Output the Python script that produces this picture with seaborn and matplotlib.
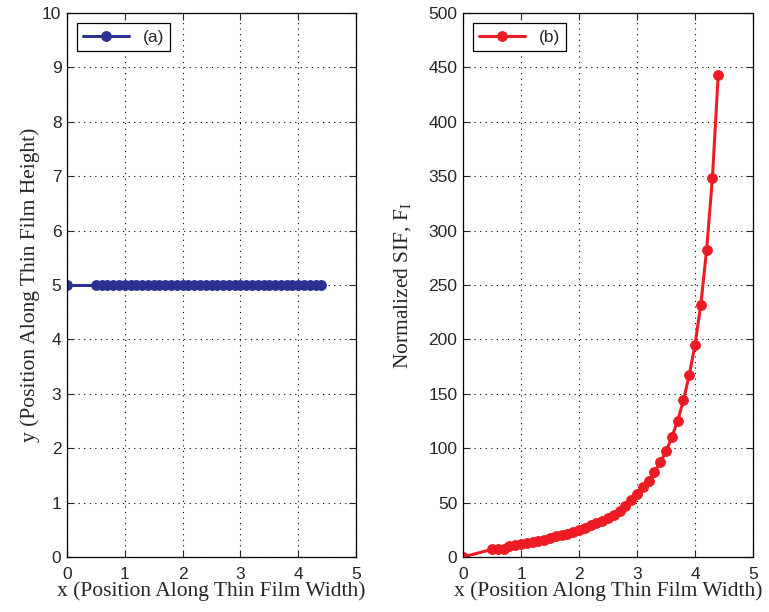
import matplotlib
matplotlib.use("Agg")
import matplotlib.pyplot as plt
import seaborn as sns
import pandas as pd
import numpy as np

# ---- data ----
x_pos = [0.0, 0.5, 0.6, 0.7, 0.8, 0.9, 1.0, 1.1, 1.2, 1.3, 1.4, 1.5, 1.6, 1.7,
         1.8, 1.9, 2.0, 2.1, 2.2, 2.3, 2.4, 2.5, 2.6, 2.7, 2.8, 2.9, 3.0, 3.1,
         3.2, 3.3, 3.4, 3.5, 3.6, 3.7, 3.8, 3.9, 4.0, 4.1, 4.2, 4.3, 4.4]
y_pos = [5.0] * len(x_pos)
sif = [0, 7, 7, 7, 10, 11, 12, 13, 14, 15, 16, 17.5, 19, 20, 21.5, 23, 25, 27,
       29, 31, 33.5, 36, 39, 42.5, 46.5, 52, 58, 64, 70, 78, 87, 97, 110, 125,
       144, 167, 195, 232, 282, 348, 443]

df = pd.DataFrame({"x": x_pos, "y": y_pos, "sif": sif})

sns.set_style("ticks")
plt.rcParams["font.family"] = ["Liberation Sans", "DejaVu Sans"]
plt.rcParams["mathtext.fontset"] = "custom"
plt.rcParams["mathtext.rm"] = "Liberation Serif"
plt.rcParams["mathtext.it"] = "Liberation Serif:italic"

blue = "#2b3192"
red = "#ed1c24"

fig = plt.figure(figsize=(7.69, 6.12), dpi=100)
W, H = 769, 612
ax1 = fig.add_axes([67 / W, 1 - 557 / H, (356 - 67) / W, (557 - 13) / H])
ax2 = fig.add_axes([463 / W, 1 - 557 / H, (753 - 463) / W, (557 - 13) / H])

sns.lineplot(data=df, x="x", y="y", ax=ax1, color=blue, marker="o",
             markersize=7, markeredgecolor=blue, linewidth=2.2, label="(a)")
sns.lineplot(data=df, x="x", y="sif", ax=ax2, color=red, marker="o",
             markersize=7, markeredgecolor=red, linewidth=2.2, label="(b)")

label_font = dict(family="Liberation Serif", size=15.5)

for ax in (ax1, ax2):
    ax.set_xlim(0, 5)
    ax.set_xticks([0, 1, 2, 3, 4, 5])
    ax.grid(True, linestyle=(0, (1, 4)), color="black", linewidth=0.8)
    ax.tick_params(direction="in", top=True, right=True, length=5,
                   labelsize=12.5, width=0.8, pad=4)
    ax.tick_params(axis="x", pad=7)
    for s in ax.spines.values():
        s.set_linewidth(0.9)
        s.set_color("black")
    ax.set_xlabel("x (Position Along Thin Film Width)", fontdict=label_font, labelpad=0)
    leg = ax.legend(loc="upper left", fontsize=12.5, frameon=True, fancybox=False,
                    edgecolor="black", framealpha=1, handlelength=2.6,
                    borderpad=0.35, borderaxespad=0.6)
    leg.get_frame().set_linewidth(0.9)

ax1.set_ylim(0, 10)
ax1.set_yticks(range(0, 11))
ax1.set_ylabel("y (Position Along Thin Film Height)", fontdict=label_font, labelpad=1.5)

ax2.set_ylim(0, 500)
ax2.set_yticks(range(0, 501, 50))
ax2.set_ylabel(r"Normalized SIF, F$_\mathrm{I}$", fontdict=label_font, labelpad=11)

fig.savefig("out.png", dpi=100)
